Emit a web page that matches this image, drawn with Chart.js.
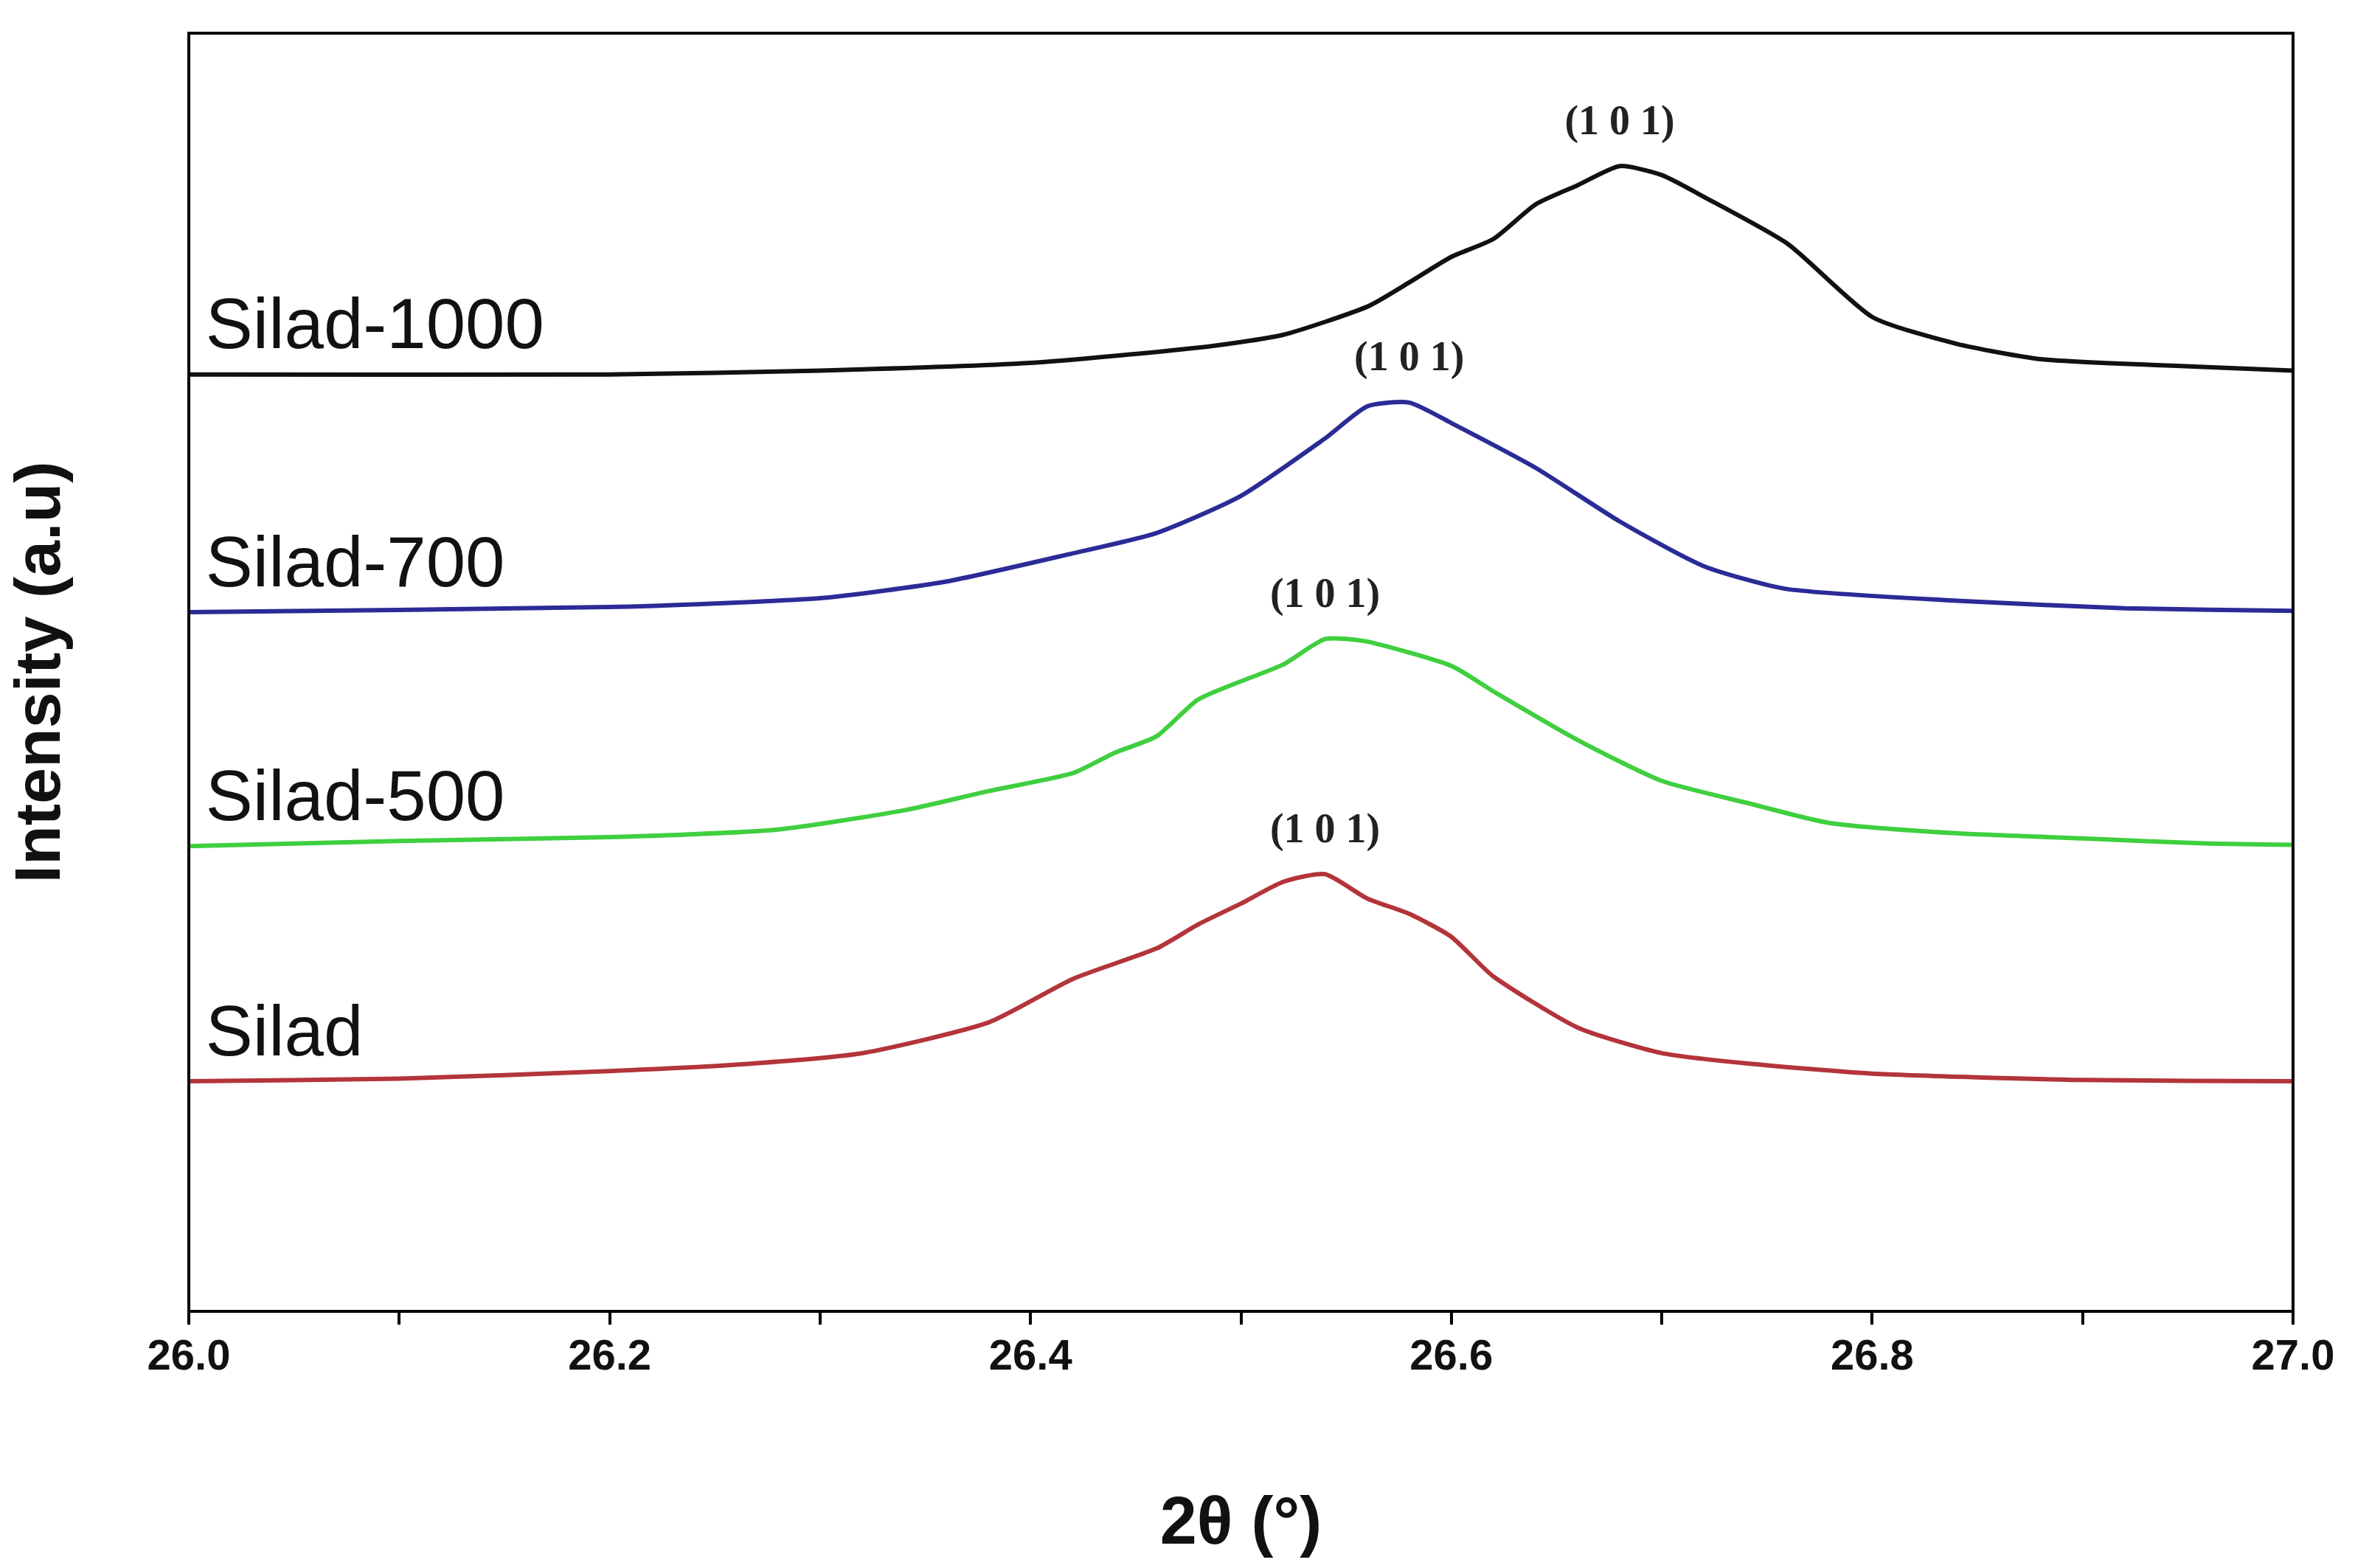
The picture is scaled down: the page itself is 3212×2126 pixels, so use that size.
<!DOCTYPE html>
<html><head><meta charset="utf-8">
<script src="https://cdn.jsdelivr.net/npm/chart.js@4"></script>
<style>html,body{margin:0;padding:0;background:#fff}#w{width:3212px;height:2126px}</style>
</head><body><div id="w"><canvas id="c"></canvas></div>
<script>
const names = ["Silad-1000","Silad-700","Silad-500","Silad"];
const colors = ["#111111","#2b2b97","#3fcf3f","#b3343a"];
const peakLabel = "(1 0 1)";
const xTicks = [26.0,26.2,26.4,26.6,26.8,27.0];

const x1000 = [26.0,26.2,26.3,26.4,26.48,26.52,26.56,26.58,26.6,26.62,26.64,26.66,26.68,26.7,26.72,26.76,26.8,26.84,26.88,26.94,27.0];
const y1000 = [73.3,73.3,73.6,74.2,75.4,76.4,78.6,80.5,82.5,83.9,86.6,88.1,89.6,88.9,87.2,83.5,77.8,75.7,74.5,74.0,73.6];
const x700 = [26.0,26.2,26.3,26.36,26.42,26.46,26.5,26.54,26.56,26.58,26.6,26.64,26.68,26.72,26.76,26.84,26.92,27.0];
const y700 = [54.7,55.1,55.8,57.1,59.3,60.9,63.8,68.3,70.8,71.1,69.5,66.0,61.8,58.3,56.5,55.6,55.0,54.8];
const x500 = [26.0,26.1,26.2,26.28,26.34,26.38,26.42,26.44,26.46,26.48,26.52,26.54,26.56,26.6,26.62,26.66,26.7,26.74,26.78,26.84,26.9,26.96,27.0];
const y500 = [36.4,36.8,37.1,37.7,39.2,40.7,42.1,43.7,45.0,47.9,50.6,52.6,52.4,50.5,48.5,44.7,41.5,39.8,38.2,37.4,37.0,36.6,36.5];
const xS = [26.0,26.1,26.2,26.26,26.32,26.38,26.42,26.46,26.48,26.5,26.52,26.54,26.56,26.58,26.6,26.62,26.66,26.7,26.74,26.8,26.9,27.0];
const yS = [18.0,18.2,18.8,19.3,20.2,22.6,26.0,28.4,30.3,31.9,33.6,34.2,32.3,31.1,29.3,26.2,22.2,20.2,19.4,18.6,18.1,18.0];

const xs=[x1000,x700,x500,xS], ys=[y1000,y700,y500,yS];
const datasets = names.map((n,i)=>({label:n,data:xs[i].map((x,j)=>({x:x,y:ys[i][j]})),borderColor:colors[i],borderWidth:6,pointRadius:0,tension:0.2,fill:false}));

const deco = {id:'deco',afterDatasetsDraw(chart){
  const ctx=chart.ctx, a=chart.chartArea, sx=chart.scales.x, sy=chart.scales.y;
  ctx.save();
  ctx.strokeStyle='#000';ctx.lineWidth=4;ctx.strokeRect(a.left,a.top,a.right-a.left,a.bottom-a.top);
  chart.data.datasets.forEach((ds,i)=>{
    let m=ds.data[0]; ds.data.forEach(p=>{if(p.y>m.y)m=p;});
    ctx.fillStyle='#222';ctx.font='bold 56px "Liberation Serif"';ctx.textAlign='center';ctx.textBaseline='bottom';
    ctx.fillText(peakLabel,sx.getPixelForValue(m.x),sy.getPixelForValue(m.y)-30);
    ctx.font='96px "Liberation Sans"';ctx.textAlign='left';ctx.fillStyle='#111';
    ctx.fillText(ds.label,sx.getPixelForValue(26.008),sy.getPixelForValue(ds.data[0].y)-14);
  });
  ctx.restore();
}};

new Chart(document.getElementById('c'),{type:'line',data:{datasets},plugins:[deco],
options:{responsive:true,maintainAspectRatio:false,animation:false,
 layout:{padding:{left:0,top:45,right:103,bottom:0}},
 plugins:{legend:{display:false},tooltip:{enabled:false}},
 scales:{
  x:{type:'linear',min:26,max:27,
     afterFit(s){s.height=348;},
     ticks:{stepSize:0.1,color:'#111',font:{size:58,weight:'bold',family:'Liberation Sans'},padding:10,
       callback:v=>Math.round(v*10)%2===0?v.toFixed(1):''},
     grid:{drawOnChartArea:false,color:'#000',tickLength:18,lineWidth:4},border:{color:'#000',width:4},
     title:{display:true,text:'2θ (°)',color:'#111',font:{size:90,weight:'bold',family:'Liberation Sans'},padding:{top:30}}},
  y:{min:0,max:100,afterFit(s){s.width=256;},
     ticks:{display:false},grid:{display:false},border:{color:'#000',width:4},
     title:{display:true,text:'Intensity (a.u)',color:'#111',font:{size:88,weight:'bold',family:'Liberation Sans'},padding:{bottom:60}}}
 }}});
</script></body></html>
